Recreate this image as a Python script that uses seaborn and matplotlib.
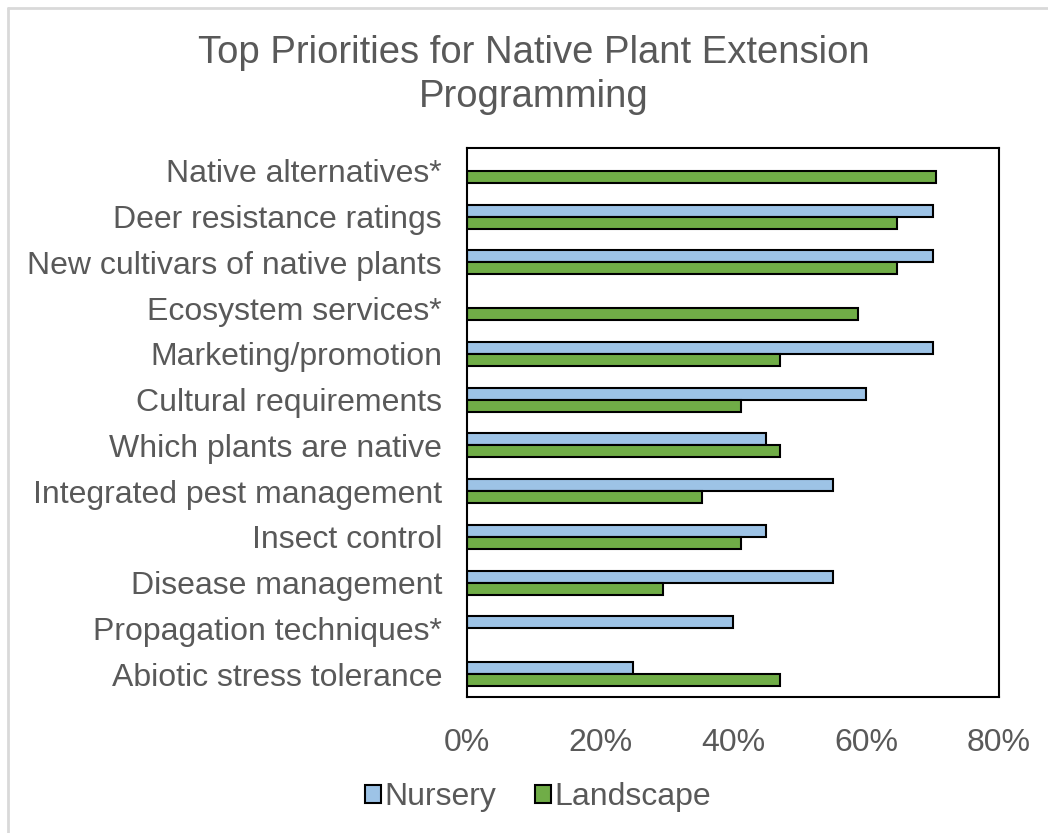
import numpy as np
import pandas as pd
import matplotlib
matplotlib.use("Agg")
import matplotlib.pyplot as plt
from matplotlib.lines import Line2D
from matplotlib.ticker import PercentFormatter
import seaborn as sns

categories = [
    "Native alternatives*",
    "Deer resistance ratings",
    "New cultivars of native plants",
    "Ecosystem services*",
    "Marketing/promotion",
    "Cultural requirements",
    "Which plants are native",
    "Integrated pest management",
    "Insect control",
    "Disease management",
    "Propagation techniques*",
    "Abiotic stress tolerance",
]
nursery = [np.nan, 70.0, 70.0, np.nan, 70.0, 60.0, 45.0, 55.0, 45.0, 55.0, 40.0, 25.0]
landscape = [70.6, 64.7, 64.7, 58.8, 47.1, 41.2, 47.1, 35.3, 41.2, 29.4, np.nan, 47.1]
series = ["Nursery", "Landscape"]
colors = ["#9DC3E6", "#70AD47"]
xticks = [0, 20, 40, 60, 80]

df = pd.DataFrame({
    "Category": categories * 2,
    "Series": [series[0]] * len(categories) + [series[1]] * len(categories),
    "Value": nursery + landscape,
})

sns.set_theme(style="white")
plt.rcParams["font.family"] = ["Liberation Sans", "DejaVu Sans"]
text_color = "#595959"

fig = plt.figure(figsize=(10.48, 8.33), dpi=100)
ax = fig.add_axes([467 / 1048, 1 - 697 / 833, (999 - 467) / 1048, (697 - 148) / 833])

sns.barplot(
    data=df, y="Category", x="Value", hue="Series", order=categories,
    hue_order=series, palette=colors, orient="h", width=0.52, saturation=1,
    edgecolor="black", linewidth=1.5, ax=ax, legend=True,
)

ax.set_xlim(0, 80)
ax.set_ylim(len(categories) - 0.5, -0.5)
ax.set_xticks(xticks)
ax.xaxis.set_major_formatter(PercentFormatter(decimals=0))
ax.set_xlabel("")
ax.set_ylabel("")
ax.tick_params(axis="both", length=0, labelsize=23, colors=text_color)
ax.tick_params(axis="x", pad=22)
ax.tick_params(axis="y", pad=18)
for s in ax.spines.values():
    s.set_visible(True)
    s.set_color("black")
    s.set_linewidth(1.5)
ax.grid(False)

leg = ax.legend(
    loc="center", bbox_to_anchor=(538 / 1048, 1 - 797 / 833),
    bbox_transform=fig.transFigure, ncol=2, frameon=False, fontsize=23,
    handlelength=0.5, handleheight=0.5, handletextpad=0.1, columnspacing=1.2,
    labelcolor=text_color,
)
for h in leg.legend_handles:
    h.set_edgecolor("black")
    h.set_linewidth(1.5)

fig.text(534 / 1048, 1 - 75 / 833, "Top Priorities for Native Plant Extension\nProgramming",
         ha="center", va="center", fontsize=27.5, color=text_color, linespacing=1.3)

fig.add_artist(Line2D([7.5 / 1048, 7.5 / 1048], [0, 1 - 7.5 / 833], color="#D9D9D9", lw=2))
fig.add_artist(Line2D([7.5 / 1048, 1], [1 - 7.5 / 833, 1 - 7.5 / 833], color="#D9D9D9", lw=2))

fig.savefig("out.png", dpi=100, facecolor="white")
